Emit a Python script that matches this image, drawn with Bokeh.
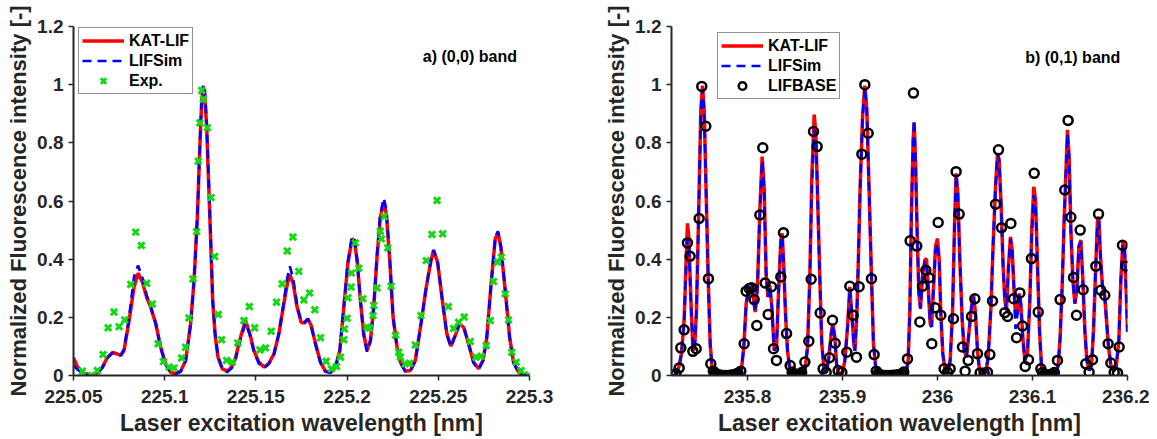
from bokeh.plotting import figure
from bokeh.layouts import row
from bokeh.models import FixedTicker, Legend, LegendItem, Label, Range1d
from bokeh.embed import file_html
from bokeh.resources import INLINE

# ---------------- data: (a) (0,0) band ----------------
a_x = [225.0500, 225.0522, 225.0558, 225.0595, 225.0631, 225.0659, 225.0686, 225.0714, 225.0741, 225.0759,
       225.0777, 225.0805, 225.0832, 225.0854, 225.0878, 225.0901, 225.0923, 225.0951, 225.0978, 225.1005,
       225.1033, 225.1060, 225.1088, 225.1115, 225.1142, 225.1161, 225.1179, 225.1192, 225.1203, 225.1212,
       225.1219, 225.1230, 225.1241, 225.1252, 225.1263, 225.1276, 225.1292, 225.1316, 225.1343, 225.1367,
       225.1389, 225.1416, 225.1443, 225.1467, 225.1489, 225.1516, 225.1544, 225.1571, 225.1599, 225.1626,
       225.1650, 225.1672, 225.1686, 225.1704, 225.1726, 225.1748, 225.1766, 225.1785, 225.1803, 225.1827,
       225.1854, 225.1881, 225.1909, 225.1936, 225.1960, 225.1982, 225.2004, 225.2027, 225.2040, 225.2055,
       225.2073, 225.2091, 225.2109, 225.2128, 225.2146, 225.2164, 225.2182, 225.2201, 225.2215, 225.2234,
       225.2252, 225.2274, 225.2292, 225.2319, 225.2347, 225.2374, 225.2405, 225.2434, 225.2460, 225.2474,
       225.2496, 225.2520, 225.2547, 225.2569, 225.2593, 225.2617, 225.2639, 225.2666, 225.2693, 225.2721,
       225.2745, 225.2766, 225.2788, 225.2812, 225.2827, 225.2843, 225.2867, 225.2891, 225.2912, 225.2940,
       225.2967, 225.3000]
a_katlif = [0.061, 0.029, 0.008, 0.002, 0.008, 0.029, 0.063, 0.079, 0.074, 0.069,
            0.086, 0.189, 0.304, 0.352, 0.321, 0.269, 0.235, 0.178, 0.097, 0.040,
            0.011, 0.006, 0.015, 0.052, 0.178, 0.327, 0.544, 0.774, 0.946, 0.994,
            0.974, 0.854, 0.659, 0.464, 0.258, 0.143, 0.063, 0.023, 0.015, 0.029,
            0.063, 0.132, 0.189, 0.143, 0.086, 0.046, 0.029, 0.042, 0.074, 0.143,
            0.235, 0.315, 0.347, 0.317, 0.235, 0.183, 0.180, 0.195, 0.172, 0.109,
            0.046, 0.015, 0.011, 0.029, 0.086, 0.235, 0.384, 0.470, 0.464, 0.395,
            0.258, 0.143, 0.086, 0.120, 0.235, 0.407, 0.544, 0.596, 0.556, 0.395,
            0.201, 0.097, 0.046, 0.015, 0.017, 0.052, 0.178, 0.304, 0.395, 0.430,
            0.390, 0.269, 0.143, 0.101, 0.138, 0.178, 0.166, 0.109, 0.046, 0.023,
            0.052, 0.132, 0.304, 0.470, 0.493, 0.441, 0.292, 0.132, 0.046, 0.011,
            0.002, 0.000]
a_lifsim = [0.035, 0.020, 0.006, 0.002, 0.008, 0.027, 0.060, 0.078, 0.074, 0.070,
            0.090, 0.200, 0.340, 0.378, 0.335, 0.275, 0.238, 0.178, 0.095, 0.038,
            0.010, 0.006, 0.014, 0.050, 0.175, 0.325, 0.545, 0.780, 0.955, 1.000,
            0.985, 0.870, 0.675, 0.475, 0.265, 0.148, 0.066, 0.022, 0.012, 0.025,
            0.058, 0.125, 0.180, 0.140, 0.082, 0.042, 0.025, 0.040, 0.074, 0.145,
            0.240, 0.335, 0.375, 0.335, 0.240, 0.185, 0.182, 0.195, 0.170, 0.106,
            0.044, 0.013, 0.010, 0.028, 0.086, 0.238, 0.390, 0.478, 0.470, 0.398,
            0.258, 0.140, 0.082, 0.118, 0.238, 0.415, 0.555, 0.610, 0.570, 0.400,
            0.200, 0.095, 0.044, 0.014, 0.016, 0.050, 0.178, 0.304, 0.398, 0.432,
            0.392, 0.268, 0.140, 0.098, 0.138, 0.180, 0.168, 0.108, 0.044, 0.021,
            0.050, 0.130, 0.304, 0.472, 0.496, 0.444, 0.292, 0.130, 0.044, 0.010,
            0.002, 0.000]
a_exp_x = [225.0549, 225.0599, 225.0631, 225.0662, 225.0690, 225.0722, 225.0750, 225.0781, 225.0814, 225.0841,
           225.0872, 225.0901, 225.0932, 225.0964, 225.0993, 225.1024, 225.1051, 225.1093, 225.1115, 225.1133,
           225.1155, 225.1175, 225.1184, 225.1193, 225.1203, 225.1212, 225.1234, 225.1254, 225.1274, 225.1294,
           225.1312, 225.1339, 225.1370, 225.1401, 225.1434, 225.1464, 225.1493, 225.1522, 225.1553, 225.1584,
           225.1613, 225.1644, 225.1672, 225.1703, 225.1735, 225.1763, 225.1794, 225.1823, 225.1854, 225.1885,
           225.1914, 225.1942, 225.1964, 225.1982, 225.1985, 225.2000, 225.2004, 225.2022, 225.2024, 225.2045,
           225.2064, 225.2086, 225.2109, 225.2124, 225.2142, 225.2146, 225.2164, 225.2182, 225.2188, 225.2204,
           225.2223, 225.2241, 225.2265, 225.2283, 225.2292, 225.2319, 225.2343, 225.2374, 225.2405, 225.2434,
           225.2465, 225.2493, 225.2524, 225.2555, 225.2584, 225.2611, 225.2642, 225.2675, 225.2706, 225.2735,
           225.2763, 225.2785, 225.2803, 225.2825, 225.2845, 225.2867, 225.2885, 225.2903, 225.2927, 225.2954,
           225.2995]
a_exp_y = [0.015, 0.000, 0.017, 0.072, 0.164, 0.218, 0.168, 0.191, 0.313, 0.493,
           0.447, 0.317, 0.246, 0.109, 0.048, 0.029, 0.026, 0.060, 0.097, 0.198,
           0.332, 0.495, 0.737, 0.869, 0.980, 0.950, 0.852, 0.612, 0.409, 0.210,
           0.123, 0.052, 0.046, 0.112, 0.189, 0.237, 0.164, 0.088, 0.095, 0.152,
           0.252, 0.315, 0.428, 0.476, 0.358, 0.260, 0.284, 0.226, 0.130, 0.049,
           0.023, 0.031, 0.063, 0.123, 0.160, 0.197, 0.267, 0.304, 0.352, 0.456,
           0.369, 0.264, 0.166, 0.163, 0.206, 0.241, 0.301, 0.496, 0.470, 0.547,
           0.439, 0.307, 0.138, 0.080, 0.063, 0.040, 0.042, 0.105, 0.206, 0.395,
           0.485, 0.602, 0.487, 0.237, 0.162, 0.183, 0.201, 0.117, 0.063, 0.066,
           0.103, 0.189, 0.323, 0.390, 0.407, 0.281, 0.191, 0.080, 0.046, 0.017,
           0.002]
a_xticks = [225.05, 225.1, 225.15, 225.2, 225.25, 225.3]
a_xlabels = ["225.05", "225.1", "225.15", "225.2", "225.25", "225.3"]

# ---------------- data: (b) (0,1) band ----------------
b_x = [235.7200, 235.7228, 235.7256, 235.7281, 235.7305, 235.7333, 235.7354, 235.7368, 235.7382, 235.7404,
       235.7425, 235.7442, 235.7463, 235.7484, 235.7509, 235.7526, 235.7544, 235.7565, 235.7586, 235.7607,
       235.7628, 235.7656, 235.7912, 235.7937, 235.7961, 235.7986, 235.8011, 235.8035, 235.8056, 235.8081,
       235.8105, 235.8130, 235.8154, 235.8175, 235.8196, 235.8214, 235.8235, 235.8256, 235.8281, 235.8305,
       235.8326, 235.8351, 235.8365, 235.8379, 235.8400, 235.8421, 235.8446, 235.8474, 235.8579, 235.8607,
       235.8632, 235.8656, 235.8677, 235.8702, 235.8719, 235.8737, 235.8761, 235.8782, 235.8807, 235.8832,
       235.8856, 235.8881, 235.8898, 235.8919, 235.8940, 235.8968, 235.9000, 235.9025, 235.9053, 235.9077,
       235.9098, 235.9119, 235.9130, 235.9150, 235.9165, 235.9186, 235.9211, 235.9235, 235.9256, 235.9281,
       235.9305, 235.9326, 235.9351, 235.9375, 235.9667, 235.9691, 235.9709, 235.9726, 235.9744, 235.9754,
       235.9768, 235.9786, 235.9804, 235.9821, 235.9842, 235.9867, 235.9884, 235.9902, 235.9923, 235.9937,
       235.9958, 235.9979, 236.0000, 236.0018, 236.0035, 236.0056, 236.0081, 236.0109, 236.0133, 236.0158,
       236.0179, 236.0196, 236.0214, 236.0235, 236.0260, 236.0281, 236.0305, 236.0330, 236.0358, 236.0379,
       236.0400, 236.0421, 236.0442, 236.0474, 236.0509, 236.0533, 236.0561, 236.0586, 236.0611, 236.0632,
       236.0649, 236.0670, 236.0691, 236.0709, 236.0726, 236.0747, 236.0768, 236.0786, 236.0804, 236.0821,
       236.0842, 236.0860, 236.0877, 236.0898, 236.0919, 236.0947, 236.0972, 236.0993, 236.1014, 236.1032,
       236.1053, 236.1074, 236.1095, 236.1123, 236.1228, 236.1246, 236.1270, 236.1291, 236.1312, 236.1333,
       236.1368, 236.1386, 236.1404, 236.1425, 236.1446, 236.1467, 236.1488, 236.1509, 236.1530, 236.1551,
       236.1572, 236.1596, 236.1621, 236.1642, 236.1663, 236.1684, 236.1698, 236.1716, 236.1737, 236.1758,
       236.1779, 236.1800, 236.1825, 236.1853, 236.1881, 236.1909, 236.1930, 236.1951, 236.1968, 236.1986,
       236.2000]
b_katlif = [0.000, 0.000, 0.011, 0.034, 0.075, 0.190, 0.397, 0.523, 0.477, 0.259,
            0.098, 0.086, 0.224, 0.534, 0.914, 0.997, 0.914, 0.626, 0.339, 0.109,
            0.023, 0.002, 0.002, 0.023, 0.098, 0.247, 0.293, 0.305, 0.282, 0.218,
            0.305, 0.569, 0.753, 0.649, 0.351, 0.270, 0.310, 0.236, 0.086, 0.098,
            0.282, 0.466, 0.489, 0.397, 0.213, 0.086, 0.017, 0.002, 0.002, 0.023,
            0.098, 0.339, 0.684, 0.897, 0.833, 0.626, 0.339, 0.109, 0.017, 0.011,
            0.063, 0.144, 0.178, 0.132, 0.029, 0.006, 0.008, 0.052, 0.167, 0.305,
            0.213, 0.109, 0.085, 0.200, 0.374, 0.649, 0.891, 0.997, 0.914, 0.626,
            0.339, 0.109, 0.023, 0.002, 0.002, 0.052, 0.224, 0.569, 0.810, 0.870,
            0.741, 0.489, 0.282, 0.230, 0.339, 0.397, 0.402, 0.305, 0.178, 0.167,
            0.305, 0.443, 0.471, 0.397, 0.213, 0.075, 0.017, 0.006, 0.052, 0.213,
            0.511, 0.695, 0.626, 0.397, 0.190, 0.086, 0.063, 0.144, 0.236, 0.276,
            0.213, 0.086, 0.017, 0.006, 0.011, 0.063, 0.224, 0.454, 0.649, 0.764,
            0.741, 0.580, 0.374, 0.259, 0.224, 0.374, 0.477, 0.431, 0.305, 0.213,
            0.213, 0.282, 0.247, 0.132, 0.052, 0.075, 0.259, 0.511, 0.649, 0.603,
            0.374, 0.155, 0.029, 0.006, 0.003, 0.008, 0.034, 0.132, 0.305, 0.534,
            0.845, 0.750, 0.500, 0.328, 0.247, 0.293, 0.443, 0.466, 0.328, 0.155,
            0.052, 0.017, 0.034, 0.155, 0.351, 0.534, 0.546, 0.408, 0.305, 0.282,
            0.190, 0.098, 0.034, 0.015, 0.029, 0.121, 0.328, 0.460, 0.443, 0.293,
            0.150]
b_lifsim = [0.000, 0.000, 0.011, 0.034, 0.075, 0.185, 0.370, 0.470, 0.450, 0.255,
            0.098, 0.086, 0.224, 0.530, 0.905, 0.985, 0.905, 0.620, 0.339, 0.109,
            0.023, 0.002, 0.002, 0.023, 0.098, 0.247, 0.293, 0.305, 0.282, 0.218,
            0.305, 0.560, 0.740, 0.640, 0.351, 0.270, 0.310, 0.236, 0.086, 0.098,
            0.282, 0.460, 0.480, 0.397, 0.213, 0.086, 0.017, 0.002, 0.002, 0.023,
            0.098, 0.330, 0.650, 0.845, 0.830, 0.626, 0.339, 0.109, 0.017, 0.011,
            0.063, 0.144, 0.175, 0.132, 0.029, 0.006, 0.008, 0.052, 0.167, 0.300,
            0.213, 0.109, 0.085, 0.200, 0.374, 0.649, 0.885, 0.990, 0.914, 0.626,
            0.339, 0.109, 0.023, 0.002, 0.002, 0.052, 0.224, 0.575, 0.820, 0.880,
            0.750, 0.489, 0.282, 0.230, 0.339, 0.390, 0.395, 0.305, 0.178, 0.167,
            0.300, 0.430, 0.455, 0.390, 0.213, 0.075, 0.017, 0.006, 0.052, 0.213,
            0.511, 0.690, 0.626, 0.397, 0.190, 0.086, 0.063, 0.144, 0.236, 0.270,
            0.213, 0.086, 0.017, 0.006, 0.011, 0.063, 0.224, 0.454, 0.649, 0.760,
            0.741, 0.580, 0.374, 0.259, 0.224, 0.374, 0.470, 0.431, 0.305, 0.160,
            0.213, 0.282, 0.247, 0.132, 0.052, 0.075, 0.259, 0.490, 0.620, 0.590,
            0.374, 0.155, 0.029, 0.006, 0.003, 0.008, 0.034, 0.132, 0.305, 0.530,
            0.830, 0.740, 0.500, 0.328, 0.247, 0.293, 0.443, 0.460, 0.328, 0.155,
            0.052, 0.017, 0.034, 0.155, 0.351, 0.525, 0.530, 0.408, 0.305, 0.282,
            0.190, 0.098, 0.034, 0.015, 0.029, 0.121, 0.328, 0.450, 0.443, 0.293,
            0.150]
b_base_x = [235.7211, 235.7246, 235.7281, 235.7298, 235.7333, 235.7368, 235.7396, 235.7425, 235.7460, 235.7491,
            235.7519, 235.7561, 235.7589, 235.7614, 235.7640, 235.7660, 235.7680, 235.7700, 235.7720, 235.7740,
            235.7760, 235.7780, 235.7800, 235.7820, 235.7840, 235.7860, 235.7880, 235.7900, 235.7930, 235.7965,
            235.7986, 235.8018, 235.8042, 235.8070, 235.8098, 235.8130, 235.8161, 235.8186, 235.8218, 235.8253,
            235.8274, 235.8305, 235.8351, 235.8379, 235.8411, 235.8449, 235.8470, 235.8490, 235.8510, 235.8530,
            235.8550, 235.8570, 235.8604, 235.8646, 235.8670, 235.8695, 235.8733, 235.8765, 235.8796, 235.8828,
            235.8863, 235.8895, 235.8923, 235.8954, 235.8993, 235.9046, 235.9077, 235.9112, 235.9147, 235.9175,
            235.9204, 235.9235, 235.9270, 235.9305, 235.9333, 235.9355, 235.9375, 235.9395, 235.9415, 235.9435,
            235.9455, 235.9475, 235.9495, 235.9515, 235.9535, 235.9555, 235.9575, 235.9595, 235.9620, 235.9645,
            235.9684, 235.9712, 235.9747, 235.9782, 235.9814, 235.9842, 235.9877, 235.9912, 235.9940, 235.9975,
            236.0007, 236.0035, 236.0070, 236.0105, 236.0133, 236.0168, 236.0196, 236.0228, 236.0263, 236.0291,
            236.0323, 236.0358, 236.0393, 236.0421, 236.0449, 236.0491, 236.0526, 236.0551, 236.0579, 236.0611,
            236.0642, 236.0674, 236.0709, 236.0737, 236.0772, 236.0800, 236.0832, 236.0867, 236.0895, 236.0923,
            236.0958, 236.0989, 236.1018, 236.1060, 236.1088, 236.1105, 236.1125, 236.1145, 236.1165, 236.1185,
            236.1205, 236.1230, 236.1263, 236.1291, 236.1340, 236.1375, 236.1404, 236.1432, 236.1463, 236.1502,
            236.1533, 236.1561, 236.1596, 236.1632, 236.1667, 236.1695, 236.1719, 236.1761, 236.1796, 236.1825,
            236.1860, 236.1895, 236.1912, 236.1947, 236.1982]
b_base_y = [0.000, 0.006, 0.026, 0.095, 0.157, 0.456, 0.410, 0.083, 0.092, 0.540,
            0.994, 0.857, 0.333, 0.040, 0.015, 0.008, 0.004, 0.002, 0.001, 0.000,
            0.000, 0.000, 0.000, 0.001, 0.002, 0.003, 0.005, 0.008, 0.015, 0.109,
            0.290, 0.299, 0.302, 0.261, 0.172, 0.552, 0.783, 0.318, 0.210, 0.305,
            0.092, 0.052, 0.339, 0.491, 0.144, 0.034, 0.012, 0.005, 0.002, 0.002,
            0.004, 0.010, 0.046, 0.118, 0.331, 0.839, 0.787, 0.215, 0.023, 0.011,
            0.061, 0.190, 0.111, 0.017, 0.011, 0.080, 0.307, 0.207, 0.063, 0.305,
            0.761, 1.000, 0.833, 0.333, 0.072, 0.015, 0.007, 0.003, 0.001, 0.000,
            0.000, 0.000, 0.000, 0.000, 0.001, 0.001, 0.002, 0.003, 0.006, 0.012,
            0.057, 0.463, 0.971, 0.445, 0.184, 0.307, 0.362, 0.336, 0.109, 0.233,
            0.526, 0.207, 0.023, 0.011, 0.023, 0.195, 0.701, 0.555, 0.098, 0.015,
            0.052, 0.203, 0.264, 0.075, 0.009, 0.009, 0.011, 0.072, 0.256, 0.589,
            0.776, 0.508, 0.216, 0.203, 0.523, 0.264, 0.130, 0.284, 0.170, 0.031,
            0.054, 0.402, 0.695, 0.218, 0.023, 0.010, 0.004, 0.002, 0.002, 0.003,
            0.005, 0.010, 0.052, 0.261, 0.638, 0.877, 0.544, 0.337, 0.207, 0.500,
            0.295, 0.040, 0.011, 0.054, 0.376, 0.555, 0.293, 0.276, 0.109, 0.043,
            0.011, 0.009, 0.098, 0.448, 0.376]
b_xticks = [235.8, 235.9, 236.0, 236.1, 236.2]
b_xlabels = ["235.8", "235.9", "236", "236.1", "236.2"]

y_ticks = [0, 0.2, 0.4, 0.6, 0.8, 1.0, 1.2]
y_labels = ["0", "0.2", "0.4", "0.6", "0.8", "1", "1.2"]

x_title = "Laser excitation wavelength [nm]"
y_title = "Normalized Fluorescence intensity [-]"

FONT = "Liberation Sans"
AX = "#262626"
RED = "#ff0000"
BLUE = "#0000ff"
GREEN = "#14d814"


def make_fig(xr, xticks, xlabels, mb_left, mb_right):
    p = figure(frame_width=456, frame_height=349, x_range=Range1d(*xr), y_range=Range1d(0, 1.2),
               output_backend="svg", toolbar_location=None,
               min_border_left=mb_left, min_border_right=mb_right, min_border_top=26, min_border_bottom=60,
               x_axis_label=x_title, y_axis_label=y_title)
    p.xaxis.ticker = FixedTicker(ticks=xticks)
    p.xaxis.major_label_overrides = dict(zip(xticks, xlabels))
    p.yaxis.ticker = FixedTicker(ticks=y_ticks)
    p.yaxis.major_label_overrides = dict(zip(y_ticks, y_labels))
    for ax in (p.xaxis[0], p.yaxis[0]):
        ax.axis_line_width = 2
        ax.axis_line_color = AX
        ax.major_tick_line_color = AX
        ax.major_tick_line_width = 1.5
        ax.major_tick_out = 5
        ax.major_tick_in = 0
        ax.minor_tick_line_color = None
        ax.major_label_text_font = FONT
        ax.major_label_text_font_style = "bold"
        ax.major_label_text_font_size = "19px"
        ax.major_label_text_color = AX
        ax.axis_label_text_font = FONT
        ax.axis_label_text_font_style = "bold"
        ax.axis_label_text_color = AX
    p.xaxis.major_label_standoff = 9
    p.xaxis.axis_label_standoff = 4
    p.xaxis.axis_label_text_font_size = "23px"
    p.yaxis.major_label_standoff = 5
    p.yaxis.axis_label_standoff = 3
    p.yaxis.axis_label_text_font_size = "22px"
    p.grid.visible = False
    p.outline_line_color = None
    p.background_fill_color = "white"
    p.border_fill_color = "white"
    return p


def style_legend(lg):
    lg.label_text_font = FONT
    lg.label_text_font_style = "bold"
    lg.label_text_font_size = "16px"
    lg.label_text_color = "black"
    lg.border_line_color = AX
    lg.border_line_width = 1
    lg.background_fill_color = "white"
    lg.background_fill_alpha = 1
    lg.padding = 3
    lg.spacing = 1
    lg.margin = 0
    lg.glyph_width = 42
    lg.glyph_height = 19
    lg.label_height = 19
    lg.label_standoff = 5


# ---- left panel
p1 = make_fig((225.05, 225.3), a_xticks, a_xlabels, 73, 57)
r1 = p1.line(a_x, a_katlif, line_color=RED, line_width=3.5)
r2 = p1.line(a_x, a_lifsim, line_color=BLUE, line_width=2.7, line_dash="9 6")
r3 = p1.scatter(a_exp_x, a_exp_y, marker="x", size=9, line_color=GREEN, line_width=3)
lg1 = Legend(items=[LegendItem(label="KAT-LIF", renderers=[r1]),
                    LegendItem(label="LIFSim", renderers=[r2]),
                    LegendItem(label="Exp.", renderers=[r3])], location=(5, 281))
style_legend(lg1)
p1.add_layout(lg1)
p1.add_layout(Label(x=225.2673, y=1.097, text="a) (0,0) band", text_align="center", text_baseline="middle",
                    text_font=FONT, text_font_style="bold", text_font_size="16px", text_color="black"))

# ---- right panel
p2 = make_fig((235.72, 236.2), b_xticks, b_xlabels, 85, 22)
s1 = p2.line(b_x, b_katlif, line_color=RED, line_width=3.5)
s2 = p2.line(b_x, b_lifsim, line_color=BLUE, line_width=2.7, line_dash="9 6")
s3 = p2.scatter(b_base_x, b_base_y, marker="circle", size=9, fill_color=None, line_color="black", line_width=2.5)
lg2 = Legend(items=[LegendItem(label="KAT-LIF", renderers=[s1]),
                    LegendItem(label="LIFSim", renderers=[s2]),
                    LegendItem(label="LIFBASE", renderers=[s3])], location=(46, 276))
style_legend(lg2)
p2.add_layout(lg2)
p2.add_layout(Label(x=236.1424, y=1.094, text="b) (0,1) band", text_align="center", text_baseline="middle",
                    text_font=FONT, text_font_style="bold", text_font_size="16px", text_color="black"))

layout = row(p1, p2)
open("out.html", "w").write(file_html(layout, INLINE))
